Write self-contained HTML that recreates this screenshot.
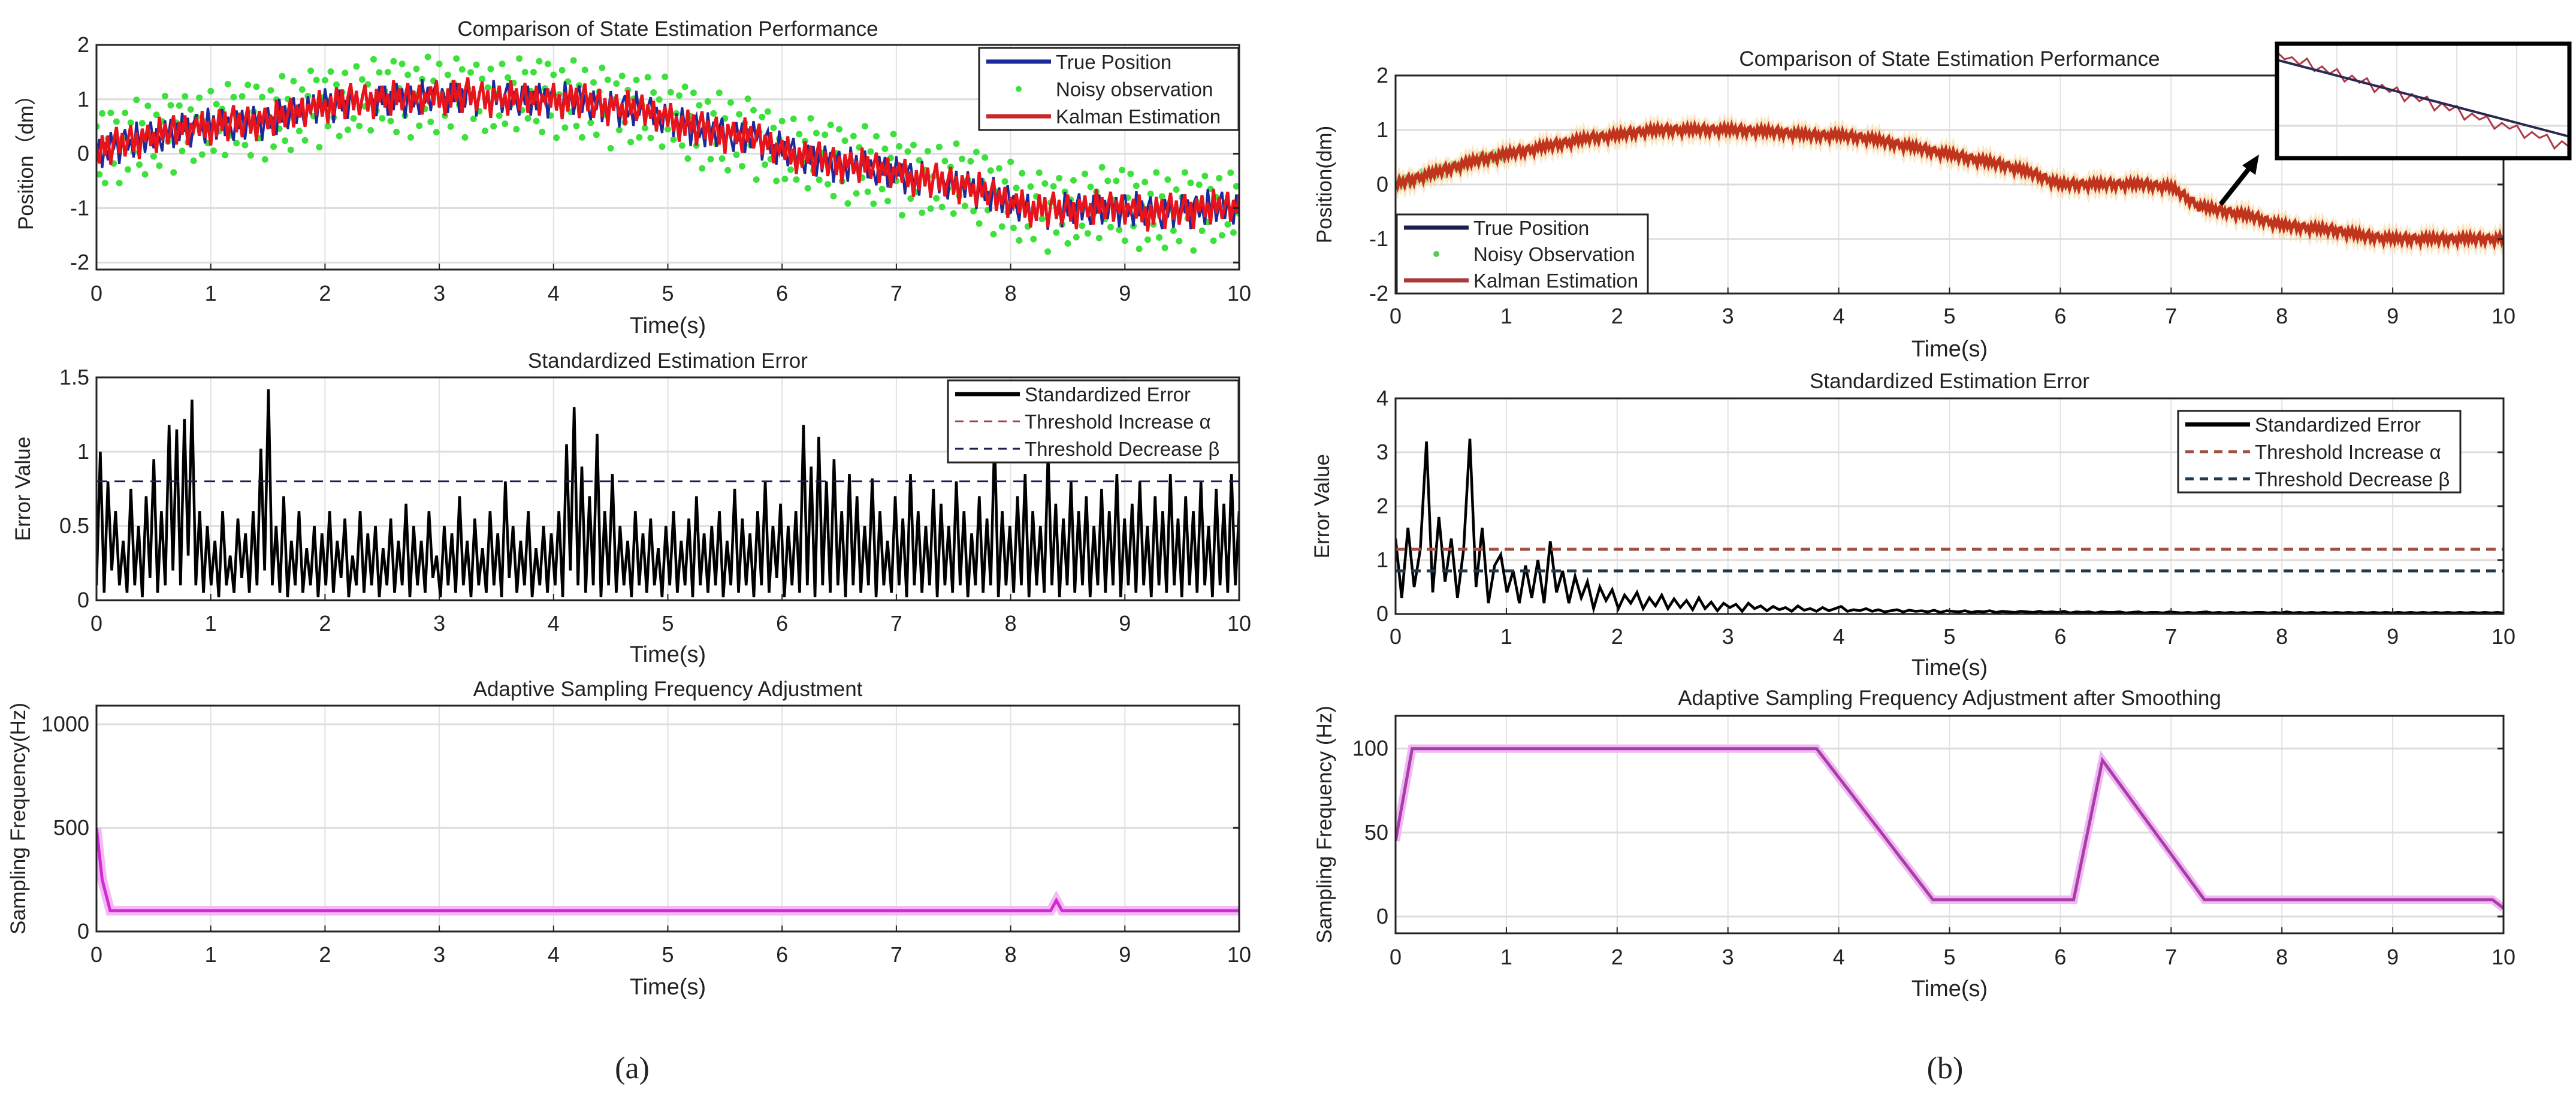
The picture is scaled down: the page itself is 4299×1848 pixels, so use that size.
<!DOCTYPE html>
<html><head><meta charset="utf-8">
<style>
html,body{margin:0;padding:0;background:#fff;}
svg{display:block;font-family:"Liberation Sans",Arial,sans-serif;}
</style></head>
<body>
<svg id="fig" width="4299" height="1848" viewBox="0 0 4299 1848" xmlns="http://www.w3.org/2000/svg">
<rect width="4299" height="1848" fill="#fff"/>
</svg>
<script>
// ---------- data ----------
const xTicks = [0,1,2,3,4,5,6,7,8,9,10];
const truePosA = [0,0.2,0.3,0.45,0.5,0.55,0.6,0.75,0.9,0.95,1.0,1.0,1.05,1.05,1.0,1.0,1.0,0.95,0.85,0.8,0.65,0.45,0.35,0.3,0.05,-0.1,-0.2,-0.25,-0.35,-0.5,-0.55,-0.7,-0.9,-1.05,-1.05,-1.0,-1.0,-1.1,-1.05,-1.0,-1.0];
const estNoiseA = [0.15,-0.2,0.3,-0.1,0.25,-0.3,0.1,0.35,-0.15,0.2,-0.25,0.05,0.3,-0.2,0.15,-0.35,0.2,-0.05,0.25,-0.15,0.1,-0.3,0.35,-0.1,0.2,-0.2,0.05,0.3,-0.25,0.15,-0.1,0.25,-0.3,0.1,-0.05,0.2,-0.15,0.3,-0.2,0.1,-0.35];
const trueNoiseA = [-0.1,0.25,-0.3,0.15,-0.2,0.3,-0.05,0.2,-0.35,0.1,0.25,-0.15,0.05,-0.3,0.35,-0.1,0.2,-0.25,0.1,0.3,-0.2,0.15,-0.05,-0.3,0.25];
const obsNoiseA = [0.5,-0.4,0.7,-0.6,0.2,0.65,-0.3,0.45,-0.7,0.1,0.55,-0.5,0.35,-0.2,0.75,-0.45,0.3,-0.65,0.6,0.05,-0.35,0.4,-0.55,0.25,0.7,-0.15,0.5,-0.75,0.15,0.45,-0.4,0.6,-0.25,0.35,-0.6,0.2,0.55,-0.5,0.1,-0.3,0.65,-0.45,0.4,-0.1,0.3,-0.55,0.75,-0.2,0.5,-0.35,0.15];
const errA = [
0.1,1.0,0.05,0.8,0.2,0.6,0.1,0.4,0.05,0.75,0.1,0.5,0.02,0.7,0.15,0.95,0.05,0.6,0.1,1.18,
0.2,1.15,0.1,1.22,0.3,1.35,0.1,0.6,0.05,0.5,0.1,0.4,0.02,0.6,0.1,0.3,0.05,0.55,0.15,0.45,
0.05,0.6,0.1,1.02,0.2,1.42,0.1,0.5,0.05,0.7,0.02,0.4,0.1,0.6,0.05,0.35,0.1,0.5,0.02,0.45,
0.1,0.6,0.05,0.4,0.15,0.55,0.02,0.3,0.1,0.6,0.05,0.45,0.1,0.5,0.02,0.35,0.1,0.55,0.05,0.4,
0.1,0.65,0.02,0.5,0.1,0.4,0.05,0.6,0.15,0.3,0.02,0.5,0.1,0.45,0.05,0.7,0.1,0.4,0.02,0.55,
0.1,0.35,0.05,0.6,0.1,0.45,0.02,0.8,0.15,0.5,0.05,0.4,0.1,0.6,0.02,0.35,0.1,0.5,0.05,0.45,
0.1,0.6,0.02,1.05,0.2,1.3,0.1,0.9,0.05,0.7,0.1,1.12,0.02,0.6,0.1,0.85,0.05,0.5,0.1,0.4,
0.02,0.6,0.1,0.45,0.05,0.55,0.1,0.35,0.02,0.5,0.1,0.6,0.05,0.4,0.1,0.55,0.02,0.7,0.1,0.45,
0.05,0.5,0.1,0.6,0.02,0.4,0.1,0.75,0.05,0.55,0.1,0.45,0.02,0.6,0.1,0.8,0.05,0.5,0.15,0.65,
0.02,0.5,0.1,0.6,0.05,1.18,0.1,0.9,0.02,1.1,0.1,0.8,0.05,0.95,0.1,0.6,0.02,0.85,0.1,0.7,
0.05,0.5,0.1,0.82,0.02,0.6,0.1,0.4,0.05,0.7,0.1,0.55,0.02,0.85,0.1,0.6,0.05,0.5,0.1,0.75,
0.02,0.65,0.1,0.5,0.05,0.8,0.1,0.6,0.02,0.45,0.1,0.7,0.05,0.55,0.1,1.1,0.02,0.6,0.1,0.5,
0.05,0.7,0.1,0.85,0.02,0.6,0.1,0.5,0.05,1.0,0.1,0.65,0.02,0.55,0.1,0.8,0.05,0.6,0.1,0.7,
0.02,0.5,0.1,0.75,0.05,0.6,0.1,0.85,0.02,0.55,0.1,0.65,0.05,0.8,0.1,0.5,0.02,0.7,0.1,0.6,
0.05,0.85,0.1,0.55,0.02,0.7,0.1,0.6,0.05,0.8,0.1,0.5,0.02,0.75,0.1,0.65,0.05,0.85,0.1,0.6];
const thresholdsA = [1.5, 0.8];
const freqTimesA = [0,0.05,0.12,8.35,8.4,8.45,10];
const freqValsA = [500,250,100,100,150,100,100];
const truePosB = [0,0.15,0.3,0.45,0.55,0.65,0.75,0.85,0.9,0.98,1.0,1.0,1.0,0.98,0.95,0.9,0.9,0.85,0.75,0.65,0.55,0.45,0.35,0.2,0.0,0.0,0.0,0.0,-0.05,-0.4,-0.5,-0.6,-0.75,-0.8,-0.85,-0.95,-1.0,-1.0,-1.0,-1.0,-1.0];
const estNoiseB = [0.06,-0.05,0.08,-0.03,0.05,-0.07,0.04,0.09,-0.06,0.03,-0.08,0.05,0.07,-0.04,0.02,-0.09,0.06,-0.02,0.08,-0.05];
const errB = [
1.4,0.3,1.6,0.5,1.2,3.2,0.4,1.8,0.6,1.4,0.3,1.2,3.25,0.5,1.6,0.2,0.9,1.1,0.4,0.8,
0.2,0.9,0.3,1.0,0.2,1.35,0.4,0.8,0.2,0.7,0.3,0.6,0.1,0.5,0.25,0.45,0.1,0.35,0.2,0.4,
0.1,0.3,0.15,0.35,0.1,0.28,0.12,0.25,0.08,0.3,0.1,0.22,0.06,0.2,0.12,0.18,0.05,0.2,0.1,0.15,
0.06,0.14,0.08,0.12,0.05,0.15,0.07,0.1,0.05,0.12,0.06,0.1,0.14,0.05,0.08,0.06,0.1,0.05,0.08,0.04,
0.06,0.08,0.04,0.07,0.05,0.06,0.04,0.07,0.03,0.06,0.05,0.04,0.06,0.03,0.05,0.04,0.06,0.03,0.05,0.04,
0.03,0.05,0.04,0.03,0.05,0.03,0.04,0.03,0.05,0.02,0.04,0.03,0.04,0.02,0.04,0.03,0.03,0.04,0.02,0.03,
0.04,0.02,0.03,0.03,0.02,0.04,0.03,0.02,0.03,0.02,0.03,0.04,0.02,0.03,0.02,0.03,0.02,0.03,0.02,0.03,
0.03,0.02,0.03,0.02,0.04,0.02,0.03,0.02,0.03,0.02,0.03,0.02,0.03,0.02,0.03,0.02,0.03,0.02,0.03,0.02,
0.03,0.02,0.03,0.02,0.03,0.02,0.03,0.02,0.03,0.02,0.03,0.02,0.03,0.02,0.03,0.02,0.03,0.02,0.03,0.02];
const thresholdsB = [1.2, 0.8];
const freqTimesB = [0,0.15,3.8,4.85,6.12,6.38,7.3,9.9,10];
const freqValsB = [45,100,100,10,10,93,10,10,5];
const insetVals = [0.6,0.2,0.5,0.1,0.7,-0.1,0.4,0.0,0.5,-0.3,0.3,-0.1,0.4,-0.5,0.2,-0.2,0.3,-0.6,0.1,-0.3,0.2,-0.7,0.0,-0.4,0.1,-0.8,-0.2,-0.5,-0.1,-0.9,-0.3,-0.6,-0.2,-1.0,-0.4,-0.7,-0.3,-1.2,-0.5,-0.8];

// ---------- helpers ----------
const NS = "http://www.w3.org/2000/svg";
const svg = document.getElementById('fig');
function mk(tag, attrs, parent){ const e=document.createElementNS(NS,tag); for(const k in attrs) e.setAttribute(k,attrs[k]); (parent||svg).appendChild(e); return e; }
function txt(s, x, y, size, anchor, parent, extra){ const t=mk('text',Object.assign({x:x,y:y,'font-size':size,'text-anchor':anchor||'middle',fill:'#222'},extra||{}),parent); t.textContent=s; return t; }
function interp(arr, t){ const n=arr.length-1; const p=t/10*n; const i=Math.min(Math.floor(p),n-1); const f=p-i; return arr[i]*(1-f)+arr[i+1]*f; }
function interpXY(ts, vs, t){ for(let i=0;i<ts.length-1;i++){ if(t<=ts[i+1]){ const f=(t-ts[i])/(ts[i+1]-ts[i]); return vs[i]*(1-f)+vs[i+1]*f; } } return vs[vs.length-1]; }

function makeAxes(o){
  const g = mk('g',{});
  
  
  const sx = v => o.x0 + (v-0)/(10-0)*(o.x1-o.x0);
  const sy = v => o.y1 - (v-o.ymin)/(o.ymax-o.ymin)*(o.y1-o.y0);
  mk('rect',{x:o.x0,y:o.y0,width:o.x1-o.x0,height:o.y1-o.y0,fill:'#fff'},g);
  xTicks.forEach(v=>{ mk('line',{x1:sx(v),x2:sx(v),y1:o.y0,y2:o.y1,stroke:'#e2e2e2','stroke-width':2},g); });
  o.yticks.forEach(v=>{ mk('line',{x1:o.x0,x2:o.x1,y1:sy(v),y2:sy(v),stroke:'#dcdcdc','stroke-width':3},g); });
  const tl = mk('g',{},g);
  
  
  xTicks.forEach(v=>{ txt(String(v), sx(v), o.tickY, 36, 'middle', tl); });
  const yl = mk('g',{},g);
  
  
  o.yticks.forEach((v,i)=>{ txt(o.ylabels[i], o.x0-12, sy(v)+12, 36, 'end', yl); });
  const ti = txt(o.title, (o.x0+o.x1)/2, o.titleY, 35, 'middle', g);
  
  
  const xl = txt('Time(s)', (o.x0+o.x1)/2, o.xlabelY, 38, 'middle', g);
  
  
  const yt = txt(o.ylabel, 0, 0, 35, 'middle', g, {transform:`translate(${o.ylabelX},${(o.y0+o.y1)/2}) rotate(-90)`});
  
  
  const plot = mk('g',{},g);
  const clipId = o.name+'-clip';
  const cp = mk('clipPath',{id:clipId},g); mk('rect',{x:o.x0,y:o.y0-4,width:o.x1-o.x0,height:o.y1-o.y0+8},cp);
  plot.setAttribute('clip-path',`url(#${clipId})`);
  return {g, plot, sx, sy, o};
}
function finishAxes(a){
  const o=a.o;
  mk('rect',{x:o.x0,y:o.y0,width:o.x1-o.x0,height:o.y1-o.y0,fill:'none',stroke:'#222','stroke-width':3},a.g);
  xTicks.forEach(v=>{ mk('line',{x1:a.sx(v),x2:a.sx(v),y1:o.y1,y2:o.y1-10,stroke:'#222','stroke-width':2},a.g); });
  o.yticks.forEach(v=>{ mk('line',{x1:o.x1,x2:o.x1-10,y1:a.sy(v),y2:a.sy(v),stroke:'#222','stroke-width':3},a.g); });
}
function pathFrom(pts){ return pts.map((p,i)=>(i?'L':'M')+p[0].toFixed(1)+' '+p[1].toFixed(1)).join(''); }
function legend(x,y,w,h,items,parent){
  const g=mk('g',{},parent);
  
  
  mk('rect',{x:x,y:y,width:w,height:h,fill:'#fff',stroke:'#222','stroke-width':3},g);
  const step=h/items.length;
  items.forEach((it,i)=>{
    const cy=y+step*(i+0.5);
    const e=mk('g',{},g);
    
    
    if(it.type==='line') mk('line',{x1:x+12,x2:x+120,y1:cy,y2:cy,stroke:it.color,'stroke-width':it.w||7,'stroke-dasharray':it.dash||'none'},e);
    else mk('circle',{cx:x+66,cy:cy,r:5,fill:it.color},e);
    txt(it.label, x+128, cy+12, 33, 'start', e);
  });
}

// ---------- panel a top ----------
let A1 = makeAxes({name:'position-chart-a',x0:161,x1:2068,y0:75,y1:450,ymin:-2.13,ymax:2,yticks:[-2,-1,0,1,2],ylabels:['-2','-1','0','1','2'],title:'Comparison of State Estimation Performance',titleY:60,ylabel:'Position（dm）',ylabelX:55,tickY:502,xlabelY:556});
{
  const obsG=mk('g',{fill:'#3ee03e'},A1.plot);
  
  
  for(let i=0;i<=400;i++){ const t=i*10/400; const v=interp(truePosA,t)+obsNoiseA[i%obsNoiseA.length]; mk('circle',{cx:A1.sx(t),cy:A1.sy(v),r:5.5},obsG); }
  const tp=[]; for(let i=0;i<=400;i++){ const t=i*10/400; tp.push([A1.sx(t),A1.sy(interp(truePosA,t)+trueNoiseA[i%trueNoiseA.length])]); }
  const p1=mk('path',{d:pathFrom(tp),fill:'none',stroke:'#1a2a9a','stroke-width':4},A1.plot);
  
  
  const ep=[]; for(let i=0;i<=400;i++){ const t=i*10/400; ep.push([A1.sx(t),A1.sy(interp(truePosA,t)+estNoiseA[i%estNoiseA.length])]); }
  const p2=mk('path',{d:pathFrom(ep),fill:'none',stroke:'#e8141c','stroke-width':5},A1.plot);
  
  
  finishAxes(A1);
  legend(1634,80,433,137,[{type:'line',color:'#1a2a9a',label:'True Position'},{type:'dot',color:'#3ee03e',label:'Noisy observation'},{type:'line',color:'#c82828',label:'Kalman Estimation'}],A1.g);
}

// ---------- panel a middle ----------
let A2 = makeAxes({name:'error-chart-a',x0:161,x1:2068,y0:630,y1:1002,ymin:0,ymax:1.5,yticks:[0,0.5,1,1.5],ylabels:['0','0.5','1','1.5'],title:'Standardized Estimation Error',titleY:614,ylabel:'Error Value',ylabelX:50,tickY:1053,xlabelY:1105});
{
  const pts=errA.map((v,i)=>[A2.sx(i*10/(errA.length-1)),A2.sy(v)]);
  const p=mk('path',{d:pathFrom(pts),fill:'none',stroke:'#000','stroke-width':4.5},A2.plot);
  
  
  const th1=mk('line',{x1:A2.sx(0),x2:A2.sx(10),y1:A2.sy(thresholdsA[0]),y2:A2.sy(thresholdsA[0]),stroke:'#a04040','stroke-width':3,'stroke-dasharray':'18 12'},A2.plot);
  
  
  const th2=mk('line',{x1:A2.sx(0),x2:A2.sx(10),y1:A2.sy(thresholdsA[1]),y2:A2.sy(thresholdsA[1]),stroke:'#1a2050','stroke-width':3,'stroke-dasharray':'18 12'},A2.plot);
  
  
  finishAxes(A2);
  legend(1582,635,485,137,[{type:'line',color:'#000',label:'Standardized Error'},{type:'line',color:'#a04040',label:'Threshold Increase α',w:3,dash:'14 10'},{type:'line',color:'#1a2050',label:'Threshold Decrease β',w:3,dash:'14 10'}],A2.g);
}

// ---------- panel a bottom ----------
let A3 = makeAxes({name:'frequency-chart-a',x0:161,x1:2068,y0:1178,y1:1555,ymin:0,ymax:1090,yticks:[0,500,1000],ylabels:['0','500','1000'],title:'Adaptive Sampling Frequency Adjustment',titleY:1162,ylabel:'Sampling Frequency(Hz)',ylabelX:42,tickY:1606,xlabelY:1660});
{
  const pts=[]; for(let i=0;i<=1000;i++){ const t=i/100; pts.push([A3.sx(t),A3.sy(interpXY(freqTimesA,freqValsA,t))]); }
  mk('path',{d:pathFrom(pts),fill:'none',stroke:'#f4b8f4','stroke-width':16},A3.plot);
  const p=mk('path',{d:pathFrom(pts),fill:'none',stroke:'#d22ad2','stroke-width':5},A3.plot);
  
  
  finishAxes(A3);
}
const la=txt('(a)',1055,1800,52,'middle',svg,{'font-family':'"Liberation Serif",serif'});



// ---------- panel b top ----------
let B1 = makeAxes({name:'position-chart-b',x0:2329,x1:4178,y0:126,y1:490,ymin:-2,ymax:2,yticks:[-2,-1,0,1,2],ylabels:['-2','-1','0','1','2'],title:'Comparison of State Estimation Performance',titleY:110,ylabel:'Position(dm)',ylabelX:2222,tickY:540,xlabelY:595});
{
  const ob=mk('g',{fill:'#7ee07e'},B1.plot);
  
  
  for(let i=0;i<=60;i++){ const t=i*1/60; const v=interp(truePosB,t)+obsNoiseA[i%obsNoiseA.length]*0.15; mk('circle',{cx:B1.sx(t),cy:B1.sy(v),r:4},ob); }
  const ep=[]; for(let i=0;i<=600;i++){ const t=i*10/600; ep.push([B1.sx(t),B1.sy(interp(truePosB,t)+estNoiseB[i%estNoiseB.length])]); }
  mk('path',{d:pathFrom(ep),fill:'none',stroke:'#f5d090','stroke-width':12,'stroke-opacity':0.5},B1.plot);
  const tp=[]; for(let i=0;i<=200;i++){ const t=i*10/200; tp.push([B1.sx(t),B1.sy(interp(truePosB,t))]); }
  const p1=mk('path',{d:pathFrom(tp),fill:'none',stroke:'#1a2050','stroke-width':4},B1.plot);
  
  
  const p2=mk('path',{d:pathFrom(ep),fill:'none',stroke:'#c0341e','stroke-width':6},B1.plot);
  
  
  finishAxes(B1);
  legend(2331,358,419,132,[{type:'line',color:'#1a2050',label:'True Position'},{type:'dot',color:'#5cc85c',label:'Noisy Observation'},{type:'line',color:'#a83a3a',label:'Kalman Estimation'}],B1.g);
  // inset
  const ig=mk('g',{});
  
  
  const ix0=3800, ix1=4288, iy0=73, iy1=264;
  mk('rect',{x:ix0,y:iy0,width:ix1-ix0,height:iy1-iy0,fill:'#fff'},ig);
  [3900,4000,4100,4200].forEach(x=>mk('line',{x1:x,x2:x,y1:iy0,y2:iy1,stroke:'#e2e2e2','stroke-width':2},ig));
  mk('line',{x1:ix0,x2:ix1,y1:210,y2:210,stroke:'#dcdcdc','stroke-width':3},ig);
  const isx=i=>ix0+i*(ix1-ix0)/(insetVals.length-1);
  const base=i=>100+i*(228-100)/(insetVals.length-1);
  mk('path',{d:pathFrom(insetVals.map((v,i)=>[isx(i),base(i)-v*22])),fill:'none',stroke:'#b03848','stroke-width':3},ig);
  mk('line',{x1:ix0,x2:ix1,y1:100,y2:228,stroke:'#2a2a50','stroke-width':4},ig);
  mk('rect',{x:ix0,y:iy0,width:ix1-ix0,height:iy1-iy0,fill:'none',stroke:'#000','stroke-width':7},ig);
  const ar=mk('g',{});
  
  
  mk('line',{x1:3706,y1:341,x2:3756,y2:278,stroke:'#000','stroke-width':8},ar);
  mk('polygon',{points:'3770,258 3742,276 3764,292',fill:'#000'},ar);
}

// ---------- panel b middle ----------
let B2 = makeAxes({name:'error-chart-b',x0:2329,x1:4178,y0:665,y1:1025,ymin:0,ymax:4,yticks:[0,1,2,3,4],ylabels:['0','1','2','3','4'],title:'Standardized Estimation Error',titleY:648,ylabel:'Error Value',ylabelX:2218,tickY:1075,xlabelY:1127});
{
  const pts=errB.map((v,i)=>[B2.sx(i*10/(errB.length-1)),B2.sy(v)]);
  const p=mk('path',{d:pathFrom(pts),fill:'none',stroke:'#000','stroke-width':4.5},B2.plot);
  
  
  const th1=mk('line',{x1:B2.sx(0),x2:B2.sx(10),y1:B2.sy(thresholdsB[0]),y2:B2.sy(thresholdsB[0]),stroke:'#a05040','stroke-width':5,'stroke-dasharray':'16 10'},B2.plot);
  
  
  const th2=mk('line',{x1:B2.sx(0),x2:B2.sx(10),y1:B2.sy(thresholdsB[1]),y2:B2.sy(thresholdsB[1]),stroke:'#1e3a50','stroke-width':5,'stroke-dasharray':'16 10'},B2.plot);
  
  
  finishAxes(B2);
  legend(3635,686,471,136,[{type:'line',color:'#000',label:'Standardized Error'},{type:'line',color:'#a05040',label:'Threshold Increase α',w:5,dash:'14 10'},{type:'line',color:'#1e3a50',label:'Threshold Decrease β',w:5,dash:'14 10'}],B2.g);
}

// ---------- panel b bottom ----------
let B3 = makeAxes({name:'frequency-chart-b',x0:2329,x1:4178,y0:1195,y1:1558,ymin:-10,ymax:119.5,yticks:[0,50,100],ylabels:['0','50','100'],title:'Adaptive Sampling Frequency Adjustment after Smoothing',titleY:1177,ylabel:'Sampling Frequency (Hz)',ylabelX:2222,tickY:1610,xlabelY:1663});
{
  const pts=[]; for(let i=0;i<=1000;i++){ const t=i/100; pts.push([B3.sx(t),B3.sy(interpXY(freqTimesB,freqValsB,t))]); }
  mk('path',{d:pathFrom(pts),fill:'none',stroke:'#f0b8f0','stroke-width':14},B3.plot);
  const p=mk('path',{d:pathFrom(pts),fill:'none',stroke:'#a83ca8','stroke-width':5},B3.plot);
  
  
  finishAxes(B3);
}
const lb=txt('(b)',3246,1800,52,'middle',svg,{'font-family':'"Liberation Serif",serif'});


</script>
</body></html>
